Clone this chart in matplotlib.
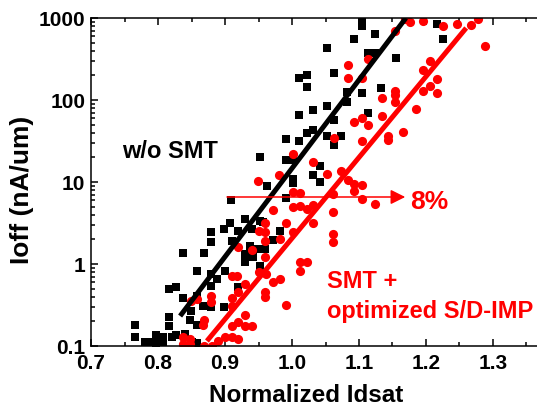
import matplotlib
matplotlib.use("Agg")
import matplotlib.pyplot as plt
from matplotlib.ticker import MultipleLocator, LogLocator, NullFormatter, FixedLocator

plt.rcParams['font.family'] = ['Liberation Sans', 'DejaVu Sans']
plt.rcParams['font.weight'] = 'bold'

# w/o SMT (black squares)
base_x = [1.104, 1.104, 1.124, 1.093, 1.052, 1.113, 1.124, 1.155, 1.216, 1.225,
          1.010, 1.022, 1.022, 1.063, 1.133, 1.082, 1.104, 1.082, 1.052, 1.031,
          1.113, 1.010, 1.063, 1.031, 1.022, 0.991, 1.010, 1.052, 1.073, 1.063,
          0.952, 0.991, 1.001, 1.042, 1.031, 1.001, 1.001, 1.042, 0.963, 0.991,
          0.909, 0.957, 0.982, 0.972, 0.960, 0.952, 0.907, 0.899, 0.879, 0.879,
          0.919, 0.910, 0.930, 0.937, 0.837, 0.869, 0.930, 0.930, 0.858, 0.879,
          0.888, 0.900, 0.816, 0.827, 0.879, 0.919, 0.837, 0.858, 0.849, 0.867,
          0.879, 0.899, 0.848, 0.858, 0.816, 0.816, 0.797, 0.807, 0.827, 0.787,
          0.797, 0.807, 0.858, 0.949, 0.940, 0.952, 0.942, 0.766, 0.766, 0.781,
          0.840, 0.851, 0.821]
base_y = [920, 800, 640, 555, 431, 374, 374, 325, 845, 555,
          185, 202, 144, 213, 140, 125, 122, 95, 85, 76,
          69, 66, 57, 43, 40, 33, 31.6, 36, 36, 28,
          20, 18.5, 18.5, 15.7, 12.2, 10.9, 9.7, 10.0, 8.9, 6.4,
          6.0, 3.25, 2.5, 1.96, 1.52, 0.95, 3.16, 2.67, 2.46, 1.85,
          2.5, 1.9, 3.5, 1.66, 1.36, 1.36, 1.32, 1.06, 0.82, 0.76,
          0.66, 0.82, 0.50, 0.52, 0.54, 0.52, 0.38, 0.41, 0.27, 0.31,
          0.30, 0.30, 0.21, 0.18, 0.226, 0.175, 0.136, 0.129, 0.136, 0.112,
          0.109, 0.112, 0.109, 1.52, 2.67, 3.35, 1.22, 0.18, 0.13, 0.112,
          0.14, 0.112, 0.13]

# SMT + optimized S/D-IMP (red circles)
smt_x = [1.169, 1.176, 1.196, 1.225, 1.246, 1.267, 1.278, 1.288, 1.154, 1.113,
         1.084, 1.084, 1.104, 1.206, 1.196, 1.216, 1.206, 1.196, 1.216, 1.154,
         1.154, 1.134, 1.154, 1.185, 1.134, 1.104, 1.093, 1.113, 1.166, 1.143,
         1.143, 1.104, 1.063, 1.001, 1.031, 1.052, 1.073, 1.084, 0.981, 1.093,
         1.104, 1.093, 1.061, 1.104, 1.124, 1.012, 1.001, 1.012, 1.022, 1.031,
         1.061, 1.031, 1.001, 0.991, 0.982, 1.061, 1.061, 1.012, 1.022, 1.012,
         0.982, 0.972, 0.991, 0.960, 0.960, 0.972, 0.960, 0.960, 0.960, 0.960,
         0.949, 1.001, 0.951, 0.940, 0.951, 0.961, 0.910, 0.918, 0.930, 0.910,
         0.910, 0.919, 0.879, 0.879, 0.858, 0.849, 0.869, 0.867, 0.910, 0.919,
         0.930, 0.930, 0.940, 0.919, 0.900, 0.890, 0.837, 0.848, 0.837, 0.848,
         0.869, 0.881, 0.910, 0.919]
smt_y = [975, 893, 920, 800, 845, 822, 975, 456, 694, 316,
         267, 185, 185, 299, 232, 180, 148, 129, 122, 129,
         115, 106, 95, 78, 64, 60, 54, 50, 41, 36,
         32.5, 31.6, 34, 22, 17.5, 12.5, 13.6, 10.6, 12.2, 9.5,
         9.2, 7.8, 7.1, 6.2, 5.4, 7.3, 5.0, 5.1, 4.7, 5.2,
         4.3, 3.15, 2.45, 3.15, 2.0, 2.3, 1.85, 1.06, 1.06, 0.82,
         0.66, 0.60, 0.32, 0.46, 0.40, 4.6, 3.2, 2.45, 1.9, 1.22,
         10.3, 7.5, 2.5, 1.48, 0.80, 0.76, 0.71, 0.71, 0.57, 0.39,
         0.31, 0.46, 0.34, 0.41, 0.37, 0.35, 0.21, 0.18, 0.175, 0.195,
         0.24, 0.175, 0.175, 0.12, 0.13, 0.115, 0.13, 0.12, 0.105, 0.105,
         0.10, 0.10, 0.13, 1.61]

# fitted trend lines (end points)
base_fit_x = [0.833, 1.170]
base_fit_y = [0.232, 1000]
smt_fit_x = [0.873, 1.260]
smt_fit_y = [0.115, 755]

# 8% shift arrow
arrow_x = [0.903, 1.169]
arrow_y = 6.56

fig = plt.figure(figsize=(5.37, 4.10), dpi=100)
ax = fig.add_axes([0.1695, 0.1537, 0.8305, 0.8])

ax.plot(base_x, base_y, 's', color='black', ms=6, mew=0)
ax.plot(smt_x, smt_y, 'o', color='red', ms=6.6, mew=0)
ax.plot(base_fit_x, base_fit_y, '-', color='black', lw=3.6, solid_capstyle='butt')
ax.plot(smt_fit_x, smt_fit_y, '-', color='red', lw=3.6, solid_capstyle='butt')

ax.annotate('', xy=(arrow_x[1], arrow_y), xytext=(arrow_x[0], arrow_y),
            arrowprops=dict(arrowstyle='-|>', color='red', lw=1.1,
                            mutation_scale=22, shrinkA=0, shrinkB=0))

ax.text(1.177, 4.82, '8%', color='red', fontsize=19, fontweight='bold', va='baseline')
ax.text(0.746, 20.2, 'w/o SMT', color='black', fontsize=17, fontweight='bold', va='baseline')
ax.text(1.052, 0.524, 'SMT +', color='red', fontsize=17, fontweight='bold', va='baseline')
ax.text(1.052, 0.226, 'optimized S/D-IMP', color='red', fontsize=17, fontweight='bold', va='baseline')

ax.set_yscale('log')
ax.set_xlim(0.7, 1.3657)
ax.set_ylim(0.1, 1000)

ax.xaxis.set_major_locator(FixedLocator([0.7, 0.8, 0.9, 1.0, 1.1, 1.2, 1.3]))
ax.xaxis.set_minor_locator(MultipleLocator(0.05))
ax.set_xticklabels(['0.7', '0.8', '0.9', '1.0', '1.1', '1.2', '1.3'])
ax.yaxis.set_major_locator(FixedLocator([0.1, 1, 10, 100, 1000]))
ax.set_yticklabels(['0.1', '1', '10', '100', '1000'])
ax.yaxis.set_minor_locator(LogLocator(base=10, subs=range(2, 10)))
ax.yaxis.set_minor_formatter(NullFormatter())

ax.tick_params(which='both', direction='in', top=True, right=False, width=1.1,
               labelsize=15, pad=4)
ax.tick_params(which='major', length=5)
ax.tick_params(which='minor', length=3)
ax.tick_params(axis='x', pad=5)
for lbl in ax.get_xticklabels() + ax.get_yticklabels():
    lbl.set_fontweight('bold')

for s in ['left', 'bottom', 'top']:
    ax.spines[s].set_linewidth(1.1)
ax.spines['right'].set_visible(False)

ax.set_xlabel('Normalized Idsat', fontsize=17.5, fontweight='bold', va='baseline')
ax.xaxis.set_label_coords(0.482, -0.1677)
ax.set_ylabel('Ioff (nA/um)', fontsize=19, fontweight='bold', va='center', ha='center')
ax.yaxis.set_label_coords(-0.1547, 0.479)

fig.savefig('out.png', dpi=100)
